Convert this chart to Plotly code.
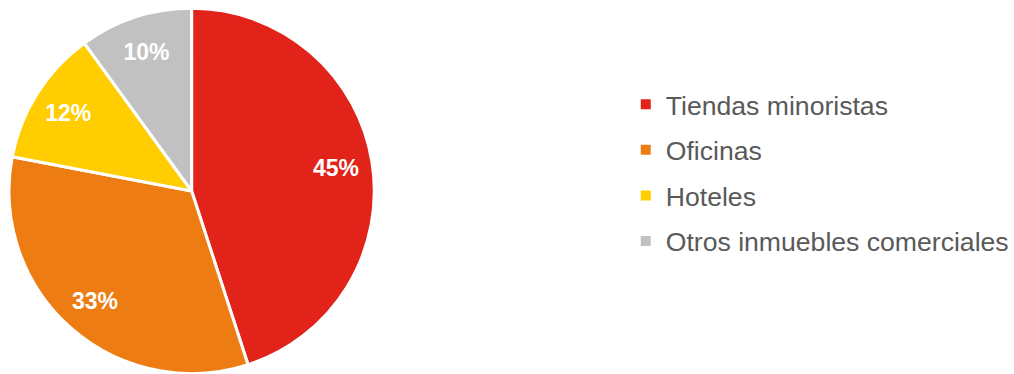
import plotly.graph_objects as go

categories = ["Tiendas minoristas", "Oficinas", "Hoteles", "Otros inmuebles comerciales"]
values = [45, 33, 12, 10]
colors = ["#E1231A", "#ED7D13", "#FFCD00", "#C2C1C2"]

W, H = 1014, 374
dom_x = [(192 - 183) / W, (192 + 183) / W]
fig = go.Figure()

# base pie (no text)
fig.add_trace(go.Pie(
    labels=categories, values=values, sort=False, direction="clockwise", rotation=0,
    marker=dict(colors=colors, line=dict(color="white", width=3)),
    textinfo="none", hoverinfo="label+percent", showlegend=False,
    domain=dict(x=dom_x, y=[0, 1]),
))
# transparent ring to place labels at ~0.8 r
fig.add_trace(go.Pie(
    labels=categories, values=values, sort=False, direction="clockwise", rotation=0,
    hole=0.6, marker=dict(colors=["rgba(0,0,0,0)"] * 4, line=dict(width=0)),
    textinfo="percent", texttemplate="%{percent:.0%}", textposition="inside",
    insidetextorientation="horizontal",
    textfont=dict(family="Liberation Sans, Arial", size=23, color="white", weight="bold"),
    hoverinfo="skip", showlegend=False,
    domain=dict(x=dom_x, y=[0, 1]),
))

# legend entries
for i, (c, col) in enumerate(zip(categories, colors)):
    fig.add_trace(go.Scatter(
        x=[None], y=[None], mode="markers", name=c, legendgroup=f"g{i}",
        marker=dict(symbol="square", size=10, color=col),
    ))

fig.update_layout(
    width=W, height=H,
    margin=dict(l=0, r=0, t=8, b=0),
    paper_bgcolor="white", plot_bgcolor="white",
    xaxis=dict(visible=False), yaxis=dict(visible=False),
    font=dict(family="Liberation Sans, Arial", color="#595959"),
    legend=dict(
        x=(667 - 40) / W, xanchor="left", y=(374 - 173) / 366, yanchor="middle",
        font=dict(size=26.6, color="#595959", family="Liberation Sans, Arial"),
        tracegroupgap=8, bgcolor="rgba(0,0,0,0)",
    ),
    showlegend=True,
)

fig.write_html("out.html")
